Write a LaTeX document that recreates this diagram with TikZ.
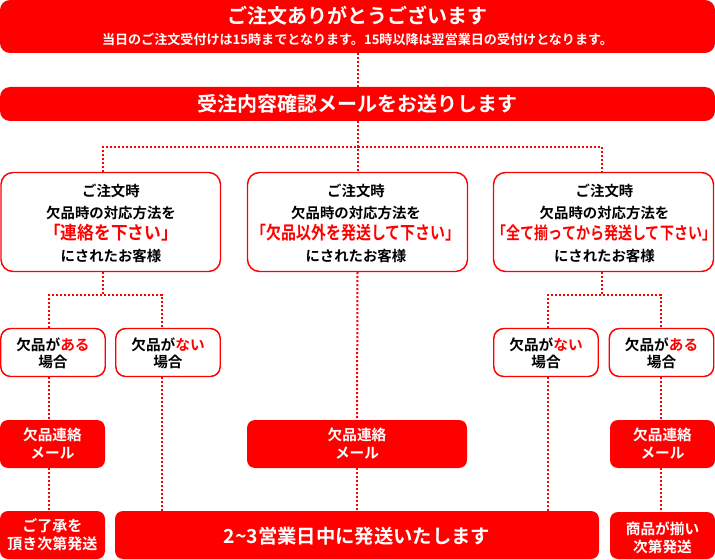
\documentclass[tikz,border=0pt]{standalone}
\usepackage{fontspec}
\setmainfont{Noto Sans CJK JP}[BoldFont={* Bold}]
\definecolor{rd}{RGB}{255,0,0}
\newcommand\fsz[2]{\fontsize{#1}{#2}\selectfont}
\tikzset{
 px/.style 2 args={minimum width={#1*0.75pt}, minimum height={#2*0.75pt}},
 banner/.style={fill=rd, rounded corners=7.5pt, inner sep=0pt},
 wbox/.style={draw=rd, line width=1.1pt, fill=white, rounded corners=9pt, inner sep=0pt},
 sbox/.style={draw=rd, line width=1.1pt, fill=white, rounded corners=7.5pt, inner sep=0pt},
 rbox/.style={fill=rd, rounded corners=6pt, inner sep=0pt},
 dl/.style={draw=rd, line width=1.5pt, dash pattern=on 1.5pt off 1.5pt},
 txt/.style={inner sep=0pt, align=center},
 ctxt/.style={txt, font=\bfseries\fsz{10.8}{16.4}},
}
\begin{document}
\begin{tikzpicture}[x=0.75pt,y=-0.75pt]
\useasboundingbox (0,0) rectangle (715,560);
% banners
\node[banner, px={715}{53}] (top) at (357.5,26.5) {};
\node[txt, text=white, font=\bfseries\fsz{15}{18}] (t1) at (357.5,15.5) {ご注文ありがとうございます};
\node[txt, text=white, font=\bfseries\fsz{9.8}{12}] (t2) at (357.5,39.5) {当日のご注文受付けは15時までとなります。15時以降は翌営業日の受付けとなります。};
\node[banner, px={715}{34}] (mail) at (357.5,104) {};
\node[txt, text=white, font=\bfseries\fsz{15}{18}] (m1) at (357.5,104) {受注内容確認メールをお送りします};
% customer boxes
\node[wbox, px={219.5}{99}] (c1) at (110.75,222) {};
\node[wbox, px={220}{99}] (c2) at (357.5,222) {};
\node[wbox, px={220}{99}] (c3) at (603.5,222) {};
\node[ctxt] (c1t) at (111,223.4) {ご注文時\\欠品時の対応方法を\\{\color{rd}\scalebox{0.93}[1]{\fsz{13.5}{16.4}「連絡を下さい」}}\\にされたお客様};
\node[ctxt] (c2t) at (356,223.4) {ご注文時\\欠品時の対応方法を\\{\color{rd}\scalebox{0.83}[1]{\fsz{13.5}{16.4}「欠品以外を発送して下さい」}}\\にされたお客様};
\node[ctxt] (c3t) at (604.5,223.4) {ご注文時\\欠品時の対応方法を\\{\color{rd}\scalebox{0.815}[1]{\fsz{12.9}{16.4}「全て揃ってから発送して下さい」}}\\にされたお客様};
% small boxes
\node[sbox, px={104.5}{48}] (s1) at (53,352.5) {};
\node[sbox, px={104.5}{48}] (s2) at (168,352.5) {};
\node[sbox, px={104.5}{48}] (s3) at (546,352.5) {};
\node[sbox, px={104.5}{48}] (s4) at (661.5,352.5) {};
\node[txt, font=\bfseries\fsz{11}{12.75}] (s1t) at (53,353) {欠品が{\color{rd}ある}\\場合};
\node[txt, font=\bfseries\fsz{11}{12.75}] (s2t) at (168,353) {欠品が{\color{rd}ない}\\場合};
\node[txt, font=\bfseries\fsz{11}{12.75}] (s3t) at (546,353) {欠品が{\color{rd}ない}\\場合};
\node[txt, font=\bfseries\fsz{11}{12.75}] (s4t) at (661.5,353) {欠品が{\color{rd}ある}\\場合};
% red boxes
\node[rbox, px={105}{48}] (r1) at (52.5,444) {};
\node[rbox, px={220}{48}] (r2) at (357,444) {};
\node[rbox, px={105}{48}] (r3) at (662.5,444) {};
\node[txt, text=white, font=\bfseries\fsz{11}{13.5}] (r1t) at (52.5,444) {欠品連絡\\メール};
\node[txt, text=white, font=\bfseries\fsz{11}{13.5}] (r2t) at (357,444) {欠品連絡\\メール};
\node[txt, text=white, font=\bfseries\fsz{11}{13.5}] (r3t) at (662.5,444) {欠品連絡\\メール};
% bottom boxes
\node[rbox, px={105}{48}] (b1) at (52.5,535) {};
\node[rbox, px={484}{48}] (b2) at (357,535) {};
\node[rbox, px={105}{47}] (b3) at (662.5,535.5) {};
\node[txt, text=white, font=\bfseries\fsz{11.25}{13.3}] (b1t) at (52.5,535) {ご了承を\\頂き次第発送};
\node[txt, text=white, font=\bfseries\fsz{14.5}{17}] (b2t) at (357,536.5) {2\textasciitilde3営業日中に発送いたします};
\node[txt, text=white, font=\bfseries\fsz{11}{13.3}] (b3t) at (662.5,537.5) {商品が揃い\\次第発送};
% connectors
\coordinate (h) at (357.5,147);
\coordinate (j1) at (103,295);
\coordinate (j2) at (602,295);
\coordinate (xa) at (49,0);
\coordinate (xb) at (162,0);
\coordinate (xc) at (548,0);
\coordinate (xd) at (661,0);
\draw[dl] (top.south) -- (mail.north);
\draw[dl] (mail.south) -- (h) -- (c2.north);
\draw[dl] (c1.north -| j1) |- (h) -| (c3.north -| j2);
\draw[dl] (c1.south -| j1) -- (j1);
\draw[dl] (s1.north -| xa) |- (j1) -| (s2.north -| xb);
\draw[dl] (c3.south -| j2) -- (j2);
\draw[dl] (s3.north -| xc) |- (j2) -| (s4.north -| xd);
\draw[dl] (s1.south -| xa) -- (r1.north -| xa);
\draw[dl] (r1.south -| xa) -- (b1.north -| xa);
\draw[dl] (s2.south -| xb) -- (b2.north -| xb);
\draw[dl] (c2.south) -- (r2.north);
\draw[dl] (r2.south) -- (b2.north -| r2.south);
\draw[dl] (s3.south -| xc) -- (b2.north -| xc);
\draw[dl] (s4.south -| xd) -- (r3.north -| xd);
\draw[dl] (r3.south -| xd) -- (b3.north -| xd);
\end{tikzpicture}
\end{document}
